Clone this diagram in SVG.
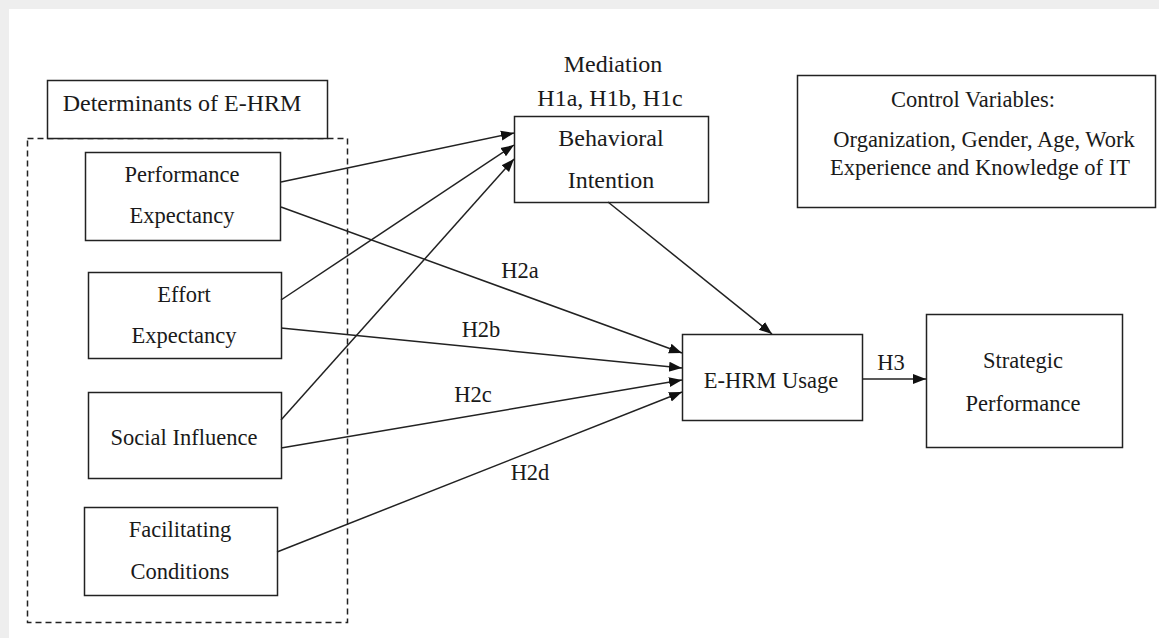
<svg xmlns="http://www.w3.org/2000/svg" width="1159" height="638" viewBox="0 0 1159 638">
  <defs>
    <style>
      .box { fill: #ffffff; stroke: #222222; stroke-width: 1.5; }
      .dash { fill: none; stroke: #222222; stroke-width: 1.5; stroke-dasharray: 6 4; }
      .t { font-family: "Liberation Serif", "Times New Roman", serif; font-size: 22.5px; fill: #1a1a1a; text-anchor: middle; }
      .big { font-size: 24px; }
      .conn { stroke: #222222; stroke-width: 1.5; fill: none; marker-end: url(#arrow); }
    </style>
    <marker id="arrow" markerUnits="userSpaceOnUse" markerWidth="14" markerHeight="12" refX="13" refY="6" orient="auto">
      <path d="M0,1 L13,6 L0,11 Z" fill="#111111"/>
    </marker>
  </defs>

  <rect x="0" y="0" width="1159" height="638" fill="#eeeeee"/>
  <rect x="9" y="9" width="1150" height="629" fill="#ffffff"/>

  <g id="determinants-group">
    <rect class="dash" x="27.5" y="138.5" width="320" height="484"/>
    <rect class="box" x="47.5" y="80.5" width="280" height="58"/>
    <text class="t big" x="182" y="111">Determinants of E-HRM</text>
  </g>

  <g id="performance-expectancy">
    <rect class="box" x="85.5" y="152.5" width="195" height="88"/>
    <text class="t" x="182" y="182">Performance</text>
    <text class="t" x="182" y="223">Expectancy</text>
  </g>

  <g id="effort-expectancy">
    <rect class="box" x="88.5" y="272.5" width="193" height="86"/>
    <text class="t" x="184" y="302">Effort</text>
    <text class="t" x="184" y="343">Expectancy</text>
  </g>

  <g id="social-influence">
    <rect class="box" x="88.5" y="392.5" width="193" height="86"/>
    <text class="t" x="184" y="445">Social Influence</text>
  </g>

  <g id="facilitating-conditions">
    <rect class="box" x="84.5" y="507.5" width="193" height="88"/>
    <text class="t" x="180" y="537">Facilitating</text>
    <text class="t" x="180" y="579">Conditions</text>
  </g>

  <g id="behavioral-intention">
    <text class="t big" x="613" y="72">Mediation</text>
    <text class="t big" x="610" y="106">H1a, H1b, H1c</text>
    <rect class="box" x="514.5" y="116.5" width="194" height="86"/>
    <text class="t big" x="611" y="146">Behavioral</text>
    <text class="t big" x="611" y="188">Intention</text>
  </g>

  <g id="control-variables">
    <rect class="box" x="797.5" y="75.5" width="358" height="132"/>
    <text class="t" x="973" y="107">Control Variables:</text>
    <text class="t" x="984" y="147">Organization, Gender, Age, Work</text>
    <text class="t" x="980" y="175">Experience and Knowledge of IT</text>
  </g>

  <g id="ehrm-usage">
    <rect class="box" x="682.5" y="334.5" width="180" height="86"/>
    <text class="t" x="771" y="388">E-HRM Usage</text>
  </g>

  <g id="strategic-performance">
    <rect class="box" x="926.5" y="314.5" width="196" height="133"/>
    <text class="t" x="1023" y="368">Strategic</text>
    <text class="t" x="1023" y="411">Performance</text>
  </g>

  <g id="connectors">
    <line class="conn" x1="281" y1="182" x2="514" y2="133"/>
    <line class="conn" x1="281" y1="300" x2="514" y2="145"/>
    <line class="conn" x1="281" y1="420" x2="514" y2="159"/>
    <line class="conn" x1="281" y1="207" x2="682" y2="353"/>
    <line class="conn" x1="281" y1="328" x2="682" y2="368"/>
    <line class="conn" x1="281" y1="448" x2="682" y2="380"/>
    <line class="conn" x1="277" y1="552" x2="682" y2="392"/>
    <line class="conn" x1="608" y1="202" x2="772" y2="334"/>
    <line class="conn" x1="862" y1="379" x2="926" y2="379"/>
    <text class="t" x="520" y="278">H2a</text>
    <text class="t" x="481" y="337">H2b</text>
    <text class="t" x="473" y="402">H2c</text>
    <text class="t" x="530" y="480">H2d</text>
    <text class="t" x="891" y="370">H3</text>
  </g>
</svg>
